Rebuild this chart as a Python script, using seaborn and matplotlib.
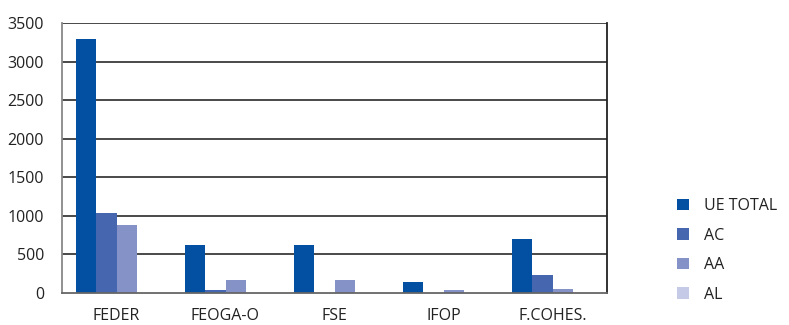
import matplotlib
matplotlib.use("Agg")
import matplotlib.pyplot as plt
import seaborn as sns
import pandas as pd
from matplotlib.ticker import FixedLocator

# Fund categories and series values
categories = ["FEDER", "FEOGA-O", "FSE", "IFOP", "F.COHES."]
series_names = ["UE TOTAL", "AC", "AA", "AL"]
ue_total = [3290, 620, 620, 145, 700]
ac = [1040, 40, 0, 0, 235]
aa = [880, 170, 170, 40, 50]
al = [0, 0, 0, 0, 0]
y_ticks = [0, 500, 1000, 1500, 2000, 2500, 3000, 3500]

colors = ["#0350A2", "#4666B0", "#8592C8", "#C5CAE6"]

rows = []
for name, vals in zip(series_names, [ue_total, ac, aa, al]):
    for cat, v in zip(categories, vals):
        rows.append({"fondo": cat, "serie": name, "valor": v})
df = pd.DataFrame(rows)

sns.set_style("white")
plt.rcParams["font.family"] = ["Open Sans", "DejaVu Sans"]

fig = plt.figure(figsize=(7.89, 3.25), dpi=100)
ax = fig.add_axes([62 / 789, 32 / 325, 545 / 789, 270 / 325])

sns.barplot(data=df, x="fondo", y="valor", hue="serie", order=categories,
            hue_order=series_names, palette=colors, width=0.735,
            saturation=1, ax=ax, linewidth=0, legend=True)

ax.set_ylim(0, 3500)
ax.set_xlim(-0.5, len(categories) - 0.5)
ax.set_yticks(y_ticks)
ax.set_xlabel("")
ax.set_ylabel("")

for v in y_ticks[1:]:
    ax.axhline(v, color="#3a3a3a", lw=1.3, zorder=0.5)

ax.tick_params(axis="y", length=0, labelsize=11.5, pad=13, colors="#222222")
ax.tick_params(axis="x", which="major", length=0, labelsize=11.5, pad=11,
               colors="#222222")
ax.xaxis.set_minor_locator(FixedLocator([i - 0.5 for i in range(len(categories) + 1)]))
ax.tick_params(axis="x", which="minor", length=6, width=1, color="#555555")

ax.spines["top"].set_visible(False)
ax.spines["left"].set_color("#888888")
ax.spines["left"].set_linewidth(1.3)
ax.spines["bottom"].set_color("#666666")
ax.spines["bottom"].set_linewidth(1.3)
ax.spines["right"].set_color("#222222")
ax.spines["right"].set_linewidth(1.3)

leg = ax.legend(loc="upper left", bbox_to_anchor=(677 / 789, 127 / 325),
                bbox_transform=fig.transFigure, frameon=False,
                handlelength=0.75, handleheight=0.75, handletextpad=0.95,
                labelspacing=0.85, fontsize=11.5, borderaxespad=0,
                borderpad=0)
for t in leg.get_texts():
    t.set_color("#222222")

fig.savefig("out.png", dpi=100)
